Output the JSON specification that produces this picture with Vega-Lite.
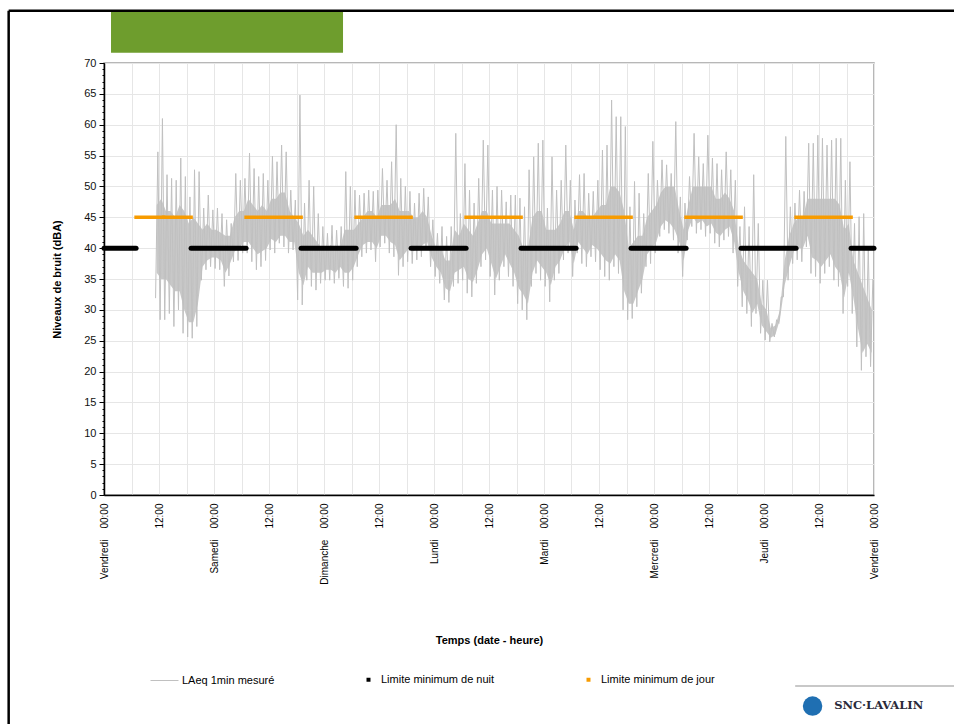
{
"$schema": "https://vega.github.io/schema/vega-lite/v6.json",
"width": 770, "height": 432,
"autosize": {"type": "none"},
"padding": {"left": 104, "top": 63, "right": 80, "bottom": 229},
"background": "white",
"config": {"view": {"stroke": "#a0a0a0", "strokeWidth": 1.5}, "font": "Liberation Sans", "axis": {"labelFont": "Liberation Sans", "titleFont": "Liberation Sans", "labelColor": "#111", "titleColor": "#000"}, "legend": {"labelFont": "Liberation Sans", "labelFontSize": 11, "labelColor": "#000"}},
"datasets": {
"laeq": [
{"t":11.25,"v":31.9},{"t":11.75,"v":55.6},{"t":12.25,"v":28.4},{"t":12.75,"v":61.0},{"t":13.25,"v":28.4},{"t":13.75,"v":51.9},{"t":14.25,"v":29.4},{"t":14.75,"v":51.3},{"t":15.25,"v":27.3},{"t":15.75,"v":51.0},{"t":16.25,"v":30.0},{"t":16.75,"v":54.6},{"t":17.25,"v":26.2},{"t":17.75,"v":51.6},{"t":18.25,"v":25.6},{"t":18.75,"v":48.3},{"t":19.25,"v":25.4},{"t":19.75,"v":52.7},{"t":20.25,"v":27.3},{"t":20.75,"v":52.4},
{"t":21.25,"v":34.8},{"t":21.75,"v":46.5},{"t":22.25,"v":36.5},{"t":22.75,"v":48.6},{"t":23.25,"v":37.0},{"t":23.75,"v":46.2},{"t":24.25,"v":36.7},{"t":24.75,"v":46.5},{"t":25.25,"v":36.5},{"t":25.75,"v":45.6},{"t":26.25,"v":33.8},{"t":26.75,"v":44.6},{"t":27.25,"v":35.5},{"t":27.75,"v":44.0},{"t":28.25,"v":37.8},{"t":28.75,"v":52.1},{"t":29.25,"v":38.0},{"t":29.75,"v":51.0},{"t":30.25,"v":39.2},{"t":30.75,"v":51.3},
{"t":31.25,"v":39.2},{"t":31.75,"v":55.4},{"t":32.25,"v":37.8},{"t":32.75,"v":52.9},{"t":33.25,"v":36.5},{"t":33.75,"v":51.6},{"t":34.25,"v":37.0},{"t":34.75,"v":52.1},{"t":35.25,"v":38.0},{"t":35.75,"v":51.0},{"t":36.25,"v":39.7},{"t":36.75,"v":54.9},{"t":37.25,"v":39.2},{"t":37.75,"v":54.0},{"t":38.25,"v":40.8},{"t":38.75,"v":56.7},{"t":39.25,"v":40.2},{"t":39.75,"v":55.6},{"t":40.25,"v":39.2},{"t":40.75,"v":49.4},
{"t":41.25,"v":39.7},{"t":41.75,"v":47.8},{"t":42.25,"v":31.6},{"t":42.75,"v":64.8},{"t":43.25,"v":30.8},{"t":43.75,"v":47.3},{"t":44.25,"v":34.8},{"t":44.75,"v":51.0},{"t":45.25,"v":33.8},{"t":45.75,"v":50.0},{"t":46.25,"v":33.2},{"t":46.75,"v":45.6},{"t":47.25,"v":34.3},{"t":47.75,"v":43.5},{"t":48.25,"v":34.8},{"t":48.75,"v":42.4},{"t":49.25,"v":34.8},{"t":49.75,"v":43.7},{"t":50.25,"v":34.3},{"t":50.75,"v":42.9},
{"t":51.25,"v":35.1},{"t":51.75,"v":43.5},{"t":52.25,"v":33.8},{"t":52.75,"v":52.4},{"t":53.25,"v":33.5},{"t":53.75,"v":50.0},{"t":54.25,"v":34.8},{"t":54.75,"v":49.4},{"t":55.25,"v":37.0},{"t":55.75,"v":48.6},{"t":56.25,"v":38.6},{"t":56.75,"v":48.9},{"t":57.25,"v":39.2},{"t":57.75,"v":49.4},{"t":58.25,"v":39.7},{"t":58.75,"v":49.2},{"t":59.25,"v":37.8},{"t":59.75,"v":49.4},{"t":60.25,"v":40.2},{"t":60.75,"v":52.9},
{"t":61.25,"v":40.8},{"t":61.75,"v":51.0},{"t":62.25,"v":39.2},{"t":62.75,"v":54.0},{"t":63.25,"v":38.6},{"t":63.75,"v":60.0},{"t":64.25,"v":35.6},{"t":64.75,"v":51.3},{"t":65.25,"v":37.0},{"t":65.75,"v":50.0},{"t":66.25,"v":37.8},{"t":66.75,"v":49.2},{"t":67.25,"v":37.5},{"t":67.75,"v":47.3},{"t":68.25,"v":38.1},{"t":68.75,"v":48.9},{"t":69.25,"v":38.6},{"t":69.75,"v":49.7},{"t":70.25,"v":39.7},{"t":70.75,"v":48.3},
{"t":71.25,"v":37.0},{"t":71.75,"v":44.6},{"t":72.25,"v":35.4},{"t":72.75,"v":42.4},{"t":73.25,"v":34.3},{"t":73.75,"v":43.5},{"t":74.25,"v":31.6},{"t":74.75,"v":41.9},{"t":75.25,"v":31.2},{"t":75.75,"v":43.5},{"t":76.25,"v":33.8},{"t":76.75,"v":58.6},{"t":77.25,"v":34.3},{"t":77.75,"v":45.6},{"t":78.25,"v":34.8},{"t":78.75,"v":53.7},{"t":79.25,"v":32.7},{"t":79.75,"v":49.4},{"t":80.25,"v":32.1},{"t":80.75,"v":47.3},
{"t":81.25,"v":34.3},{"t":81.75,"v":51.3},{"t":82.25,"v":37.0},{"t":82.75,"v":57.5},{"t":83.25,"v":38.1},{"t":83.75,"v":56.7},{"t":84.25,"v":35.4},{"t":84.75,"v":49.4},{"t":85.25,"v":32.4},{"t":85.75,"v":50.0},{"t":86.25,"v":34.8},{"t":86.75,"v":49.4},{"t":87.25,"v":37.0},{"t":87.75,"v":47.5},{"t":88.25,"v":35.4},{"t":88.75,"v":48.6},{"t":89.25,"v":33.8},{"t":89.75,"v":48.6},{"t":90.25,"v":31.0},{"t":90.75,"v":48.1},
{"t":91.25,"v":30.0},{"t":91.75,"v":46.7},{"t":92.25,"v":28.4},{"t":92.75,"v":52.7},{"t":93.25,"v":33.8},{"t":93.75,"v":54.8},{"t":94.25,"v":35.9},{"t":94.75,"v":57.0},{"t":95.25,"v":34.8},{"t":95.75,"v":57.5},{"t":96.25,"v":33.8},{"t":96.75,"v":46.5},{"t":97.25,"v":31.3},{"t":97.75,"v":54.8},{"t":98.25,"v":34.8},{"t":98.75,"v":49.4},{"t":99.25,"v":35.9},{"t":99.75,"v":51.0},{"t":100.25,"v":38.1},{"t":100.75,"v":56.7},
{"t":101.25,"v":39.2},{"t":101.75,"v":51.0},{"t":102.25,"v":35.4},{"t":102.75,"v":47.8},{"t":103.25,"v":39.2},{"t":103.75,"v":51.9},{"t":104.25,"v":37.5},{"t":104.75,"v":52.1},{"t":105.25,"v":37.0},{"t":105.75,"v":48.9},{"t":106.25,"v":38.6},{"t":106.75,"v":49.2},{"t":107.25,"v":37.8},{"t":107.75,"v":51.0},{"t":108.25,"v":36.5},{"t":108.75,"v":55.9},{"t":109.25,"v":35.4},{"t":109.75,"v":56.7},{"t":110.25,"v":34.8},{"t":110.75,"v":64.0},
{"t":111.25,"v":37.0},{"t":111.75,"v":61.3},{"t":112.25,"v":35.9},{"t":112.75,"v":61.3},{"t":113.25,"v":30.0},{"t":113.75,"v":59.7},{"t":114.25,"v":28.4},{"t":114.75,"v":46.7},{"t":115.25,"v":28.6},{"t":115.75,"v":50.8},{"t":116.25,"v":30.5},{"t":116.75,"v":48.9},{"t":117.25,"v":32.7},{"t":117.75,"v":45.6},{"t":118.25,"v":37.0},{"t":118.75,"v":52.1},{"t":119.25,"v":37.5},{"t":119.75,"v":57.3},{"t":120.25,"v":39.2},{"t":120.75,"v":51.0},
{"t":121.25,"v":41.9},{"t":121.75,"v":54.3},{"t":122.25,"v":43.0},{"t":122.75,"v":53.5},{"t":123.25,"v":42.4},{"t":123.75,"v":52.1},{"t":124.25,"v":41.3},{"t":124.75,"v":60.5},{"t":125.25,"v":39.2},{"t":125.75,"v":48.3},{"t":126.25,"v":35.4},{"t":126.75,"v":47.3},{"t":127.25,"v":41.3},{"t":127.75,"v":51.6},{"t":128.25,"v":43.5},{"t":128.75,"v":58.6},{"t":129.25,"v":42.4},{"t":129.75,"v":54.8},{"t":130.25,"v":43.0},{"t":130.75,"v":53.7},
{"t":131.25,"v":41.9},{"t":131.75,"v":58.3},{"t":132.25,"v":42.4},{"t":132.75,"v":54.6},{"t":133.25,"v":40.8},{"t":133.75,"v":53.7},{"t":134.25,"v":40.2},{"t":134.75,"v":52.7},{"t":135.25,"v":41.3},{"t":135.75,"v":55.6},{"t":136.25,"v":41.9},{"t":136.75,"v":52.7},{"t":137.25,"v":39.2},{"t":137.75,"v":51.0},{"t":138.25,"v":33.8},{"t":138.75,"v":43.5},{"t":139.25,"v":30.5},{"t":139.75,"v":46.7},{"t":140.25,"v":29.4},{"t":140.75,"v":43.5},
{"t":141.25,"v":27.3},{"t":141.75,"v":51.9},{"t":142.25,"v":29.4},{"t":142.75,"v":44.0},{"t":143.25,"v":26.2},{"t":143.75,"v":34.8},{"t":144.25,"v":25.1},{"t":144.75,"v":34.8},{"t":145.25,"v":24.8},{"t":145.75,"v":27.8},{"t":146.25,"v":25.6},{"t":146.75,"v":28.4},{"t":147.25,"v":27.8},{"t":147.75,"v":32.1},{"t":148.25,"v":32.1},{"t":148.75,"v":58.1},{"t":149.25,"v":34.8},{"t":149.75,"v":46.7},{"t":150.25,"v":37.5},{"t":150.75,"v":47.3},
{"t":151.25,"v":38.1},{"t":151.75,"v":49.4},{"t":152.25,"v":37.8},{"t":152.75,"v":49.2},{"t":153.25,"v":40.2},{"t":153.75,"v":57.0},{"t":154.25,"v":35.9},{"t":154.75,"v":57.0},{"t":155.25,"v":35.4},{"t":155.75,"v":58.3},{"t":156.25,"v":34.3},{"t":156.75,"v":57.8},{"t":157.25,"v":35.9},{"t":157.75,"v":56.7},{"t":158.25,"v":37.0},{"t":158.75,"v":57.5},{"t":159.25,"v":34.8},{"t":159.75,"v":57.8},{"t":160.25,"v":33.8},{"t":160.75,"v":57.8},
{"t":161.25,"v":29.4},{"t":161.75,"v":51.0},{"t":162.25,"v":33.8},{"t":162.75,"v":54.0},{"t":163.25,"v":29.4},{"t":163.75,"v":44.0},{"t":164.25,"v":24.0},{"t":164.75,"v":45.1},{"t":165.25,"v":20.2},{"t":165.75,"v":45.6},{"t":166.25,"v":22.4},{"t":166.75,"v":40.2},{"t":167.25,"v":20.8},{"t":167.75,"v":35.0}
],
"bande": [
{"t":11.5,"lo":36,"hi":47},{"t":12.5,"lo":35,"hi":48},{"t":13.5,"lo":35,"hi":46},{"t":14.5,"lo":34,"hi":46},{"t":15.5,"lo":33,"hi":45},{"t":16.5,"lo":33,"hi":47},{"t":17.5,"lo":30,"hi":46},{"t":18.5,"lo":28,"hi":44},{"t":19.5,"lo":28,"hi":45},{"t":20.5,"lo":31,"hi":44},
{"t":21.5,"lo":37,"hi":43},{"t":22.5,"lo":38,"hi":44},{"t":23.5,"lo":38.5,"hi":43},{"t":24.5,"lo":38.5,"hi":43},{"t":25.5,"lo":38,"hi":42.5},{"t":26.5,"lo":36,"hi":42},{"t":27.5,"lo":37.5,"hi":42},{"t":28.5,"lo":39.5,"hi":45},{"t":29.5,"lo":40,"hi":46},{"t":30.5,"lo":41,"hi":46},
{"t":31.5,"lo":41,"hi":48},{"t":32.5,"lo":40,"hi":47},{"t":33.5,"lo":39,"hi":46},{"t":34.5,"lo":39.5,"hi":47},{"t":35.5,"lo":40,"hi":46},{"t":36.5,"lo":41.5,"hi":48},{"t":37.5,"lo":41,"hi":48},{"t":38.5,"lo":42,"hi":49},{"t":39.5,"lo":42,"hi":49},{"t":40.5,"lo":41,"hi":46},
{"t":41.5,"lo":41,"hi":45},{"t":42.5,"lo":36,"hi":44},{"t":43.5,"lo":34,"hi":42},{"t":44.5,"lo":37,"hi":43},{"t":45.5,"lo":36,"hi":42},{"t":46.5,"lo":36,"hi":41},{"t":47.5,"lo":36,"hi":40},{"t":48.5,"lo":36.5,"hi":40},{"t":49.5,"lo":36.5,"hi":40.5},{"t":50.5,"lo":36,"hi":40},
{"t":51.5,"lo":37,"hi":40},{"t":52.5,"lo":36,"hi":43},{"t":53.5,"lo":36,"hi":43},{"t":54.5,"lo":37,"hi":43},{"t":55.5,"lo":39,"hi":44},{"t":56.5,"lo":40.5,"hi":45},{"t":57.5,"lo":41,"hi":46},{"t":58.5,"lo":41,"hi":46},{"t":59.5,"lo":40,"hi":45},{"t":60.5,"lo":42,"hi":47},
{"t":61.5,"lo":42,"hi":47},{"t":62.5,"lo":41,"hi":47},{"t":63.5,"lo":40.5,"hi":48},{"t":64.5,"lo":38,"hi":46},{"t":65.5,"lo":39,"hi":46},{"t":66.5,"lo":40,"hi":46},{"t":67.5,"lo":39.5,"hi":45},{"t":68.5,"lo":40,"hi":45},{"t":69.5,"lo":40.5,"hi":46},{"t":70.5,"lo":41,"hi":45},
{"t":71.5,"lo":38.5,"hi":42},{"t":72.5,"lo":37,"hi":40},{"t":73.5,"lo":36,"hi":40},{"t":74.5,"lo":33.5,"hi":38},{"t":75.5,"lo":33,"hi":38},{"t":76.5,"lo":36,"hi":43},{"t":77.5,"lo":36.5,"hi":42},{"t":78.5,"lo":37,"hi":44},{"t":79.5,"lo":35,"hi":43},{"t":80.5,"lo":34.5,"hi":42},
{"t":81.5,"lo":36.5,"hi":44},{"t":82.5,"lo":39,"hi":46},{"t":83.5,"lo":40,"hi":46},{"t":84.5,"lo":37.5,"hi":44},{"t":85.5,"lo":35,"hi":44},{"t":86.5,"lo":37,"hi":44},{"t":87.5,"lo":39,"hi":44},{"t":88.5,"lo":37.5,"hi":44},{"t":89.5,"lo":36,"hi":43},{"t":90.5,"lo":33.5,"hi":42},
{"t":91.5,"lo":32.5,"hi":40},{"t":92.5,"lo":31,"hi":40},{"t":93.5,"lo":36,"hi":45},{"t":94.5,"lo":38,"hi":46},{"t":95.5,"lo":37,"hi":46},{"t":96.5,"lo":36,"hi":43},{"t":97.5,"lo":34,"hi":43},{"t":98.5,"lo":37,"hi":43},{"t":99.5,"lo":38,"hi":44},{"t":100.5,"lo":40,"hi":46},
{"t":101.5,"lo":41,"hi":46},{"t":102.5,"lo":37.5,"hi":43},{"t":103.5,"lo":41,"hi":46},{"t":104.5,"lo":40,"hi":46},{"t":105.5,"lo":39,"hi":45},{"t":106.5,"lo":40.5,"hi":45},{"t":107.5,"lo":40,"hi":46},{"t":108.5,"lo":39,"hi":47},{"t":109.5,"lo":38,"hi":47},{"t":110.5,"lo":37.5,"hi":50},
{"t":111.5,"lo":39,"hi":50},{"t":112.5,"lo":38,"hi":49},{"t":113.5,"lo":33,"hi":46},{"t":114.5,"lo":31,"hi":40},{"t":115.5,"lo":31,"hi":41},{"t":116.5,"lo":33,"hi":42},{"t":117.5,"lo":35,"hi":42},{"t":118.5,"lo":39,"hi":45},{"t":119.5,"lo":40,"hi":46},{"t":120.5,"lo":41,"hi":47},
{"t":121.5,"lo":43.5,"hi":49},{"t":122.5,"lo":44.5,"hi":50},{"t":123.5,"lo":44,"hi":50},{"t":124.5,"lo":43,"hi":50},{"t":125.5,"lo":41,"hi":46},{"t":126.5,"lo":38,"hi":43},{"t":127.5,"lo":43,"hi":47},{"t":128.5,"lo":45,"hi":50},{"t":129.5,"lo":44,"hi":50},{"t":130.5,"lo":44.5,"hi":50},
{"t":131.5,"lo":43.5,"hi":50},{"t":132.5,"lo":44,"hi":50},{"t":133.5,"lo":42.5,"hi":48},{"t":134.5,"lo":42,"hi":48},{"t":135.5,"lo":43,"hi":49},{"t":136.5,"lo":43.5,"hi":48},{"t":137.5,"lo":41,"hi":46},{"t":138.5,"lo":36,"hi":40},{"t":139.5,"lo":33,"hi":38},{"t":140.5,"lo":31.5,"hi":37},
{"t":141.5,"lo":29.5,"hi":36},{"t":142.5,"lo":31,"hi":35},{"t":143.5,"lo":27.5,"hi":31},{"t":144.5,"lo":26.5,"hi":30},{"t":145.5,"lo":25.5,"hi":27},{"t":146.5,"lo":26,"hi":27.5},{"t":147.5,"lo":28.5,"hi":30},{"t":148.5,"lo":34,"hi":38},{"t":149.5,"lo":37,"hi":42},{"t":150.5,"lo":39.5,"hi":44},
{"t":151.5,"lo":40,"hi":45},{"t":152.5,"lo":40,"hi":45},{"t":153.5,"lo":42,"hi":48},{"t":154.5,"lo":38.5,"hi":48},{"t":155.5,"lo":38,"hi":48},{"t":156.5,"lo":37,"hi":48},{"t":157.5,"lo":38,"hi":48},{"t":158.5,"lo":39,"hi":48},{"t":159.5,"lo":37,"hi":48},{"t":160.5,"lo":36,"hi":47},
{"t":161.5,"lo":32,"hi":43},{"t":162.5,"lo":36,"hi":44},{"t":163.5,"lo":32,"hi":38},{"t":164.5,"lo":27,"hi":36},{"t":165.5,"lo":23,"hi":34},{"t":166.5,"lo":24.5,"hi":32},{"t":167.5,"lo":23,"hi":30}
],
"nuit": [
{"t0":0,"t1":7,"v":40},{"t0":19,"t1":31,"v":40},{"t0":43,"t1":55,"v":40},{"t0":67,"t1":79,"v":40},{"t0":91,"t1":103,"v":40},{"t0":115,"t1":127,"v":40},{"t0":139,"t1":151,"v":40},{"t0":163,"t1":168,"v":40}
],
"jour": [
{"t0":7,"t1":19,"v":45},{"t0":31,"t1":43,"v":45},{"t0":55,"t1":67,"v":45},{"t0":79,"t1":91,"v":45},{"t0":103,"t1":115,"v":45},{"t0":127,"t1":139,"v":45},{"t0":151,"t1":163,"v":45}
],
"limpts": [{"serie":"Limite minimum de nuit","t":3,"v":40},{"serie":"Limite minimum de jour","t":13,"v":45}],
"bandeau": [{"x0":1.53,"x1":52.15,"y0":71.67,"y1":78.27}],
"cadre": [{"a":-20.8,"b":185.5,"c":78.48,"d":78.48},{"a":-20.8,"b":-20.8,"c":78.48,"d":-37.2}],
"logoligne": [{"a":150.8,"b":185.5,"c":-30.95,"d":-30.95}],
"logo": [{"x":159.3,"y":-34.2,"txt":"SNC·LAVALIN"}],
"logoicone": [{"x":154.6,"y":-34.2}]
},
"layer": [
{
"data": {"name": "bande"},
"mark": {"type": "area", "color": "#c8c8c8", "opacity": 1},
"encoding": {
"x": {"field": "t", "type": "quantitative", "scale": {"domain": [0,168], "nice": false, "zero": false}, "axis": null},
"y": {"field": "hi", "type": "quantitative", "scale": {"domain": [0,70], "nice": false, "zero": true}, "axis": null},
"y2": {"field": "lo"}
}
},
{
"data": {"name": "laeq"},
"transform": [{"calculate": "'LAeq 1min mesuré'", "as": "serie"}],
"mark": {"type": "line", "strokeWidth": 1, "clip": false},
"encoding": {
"x": {"field": "t", "type": "quantitative", "scale": {"domain": [0,168], "nice": false, "zero": false},
 "axis": {"orient": "bottom", "values": [0,6,12,18,24,30,36,42,48,54,60,66,72,78,84,90,96,102,108,114,120,126,132,138,144,150,156,162,168], "labels": false, "ticks": false, "domain": true, "domainColor": "#000", "domainWidth": 1.5, "grid": true, "gridColor": "#e6e6e6", "gridWidth": 1, "title": null}},
"y": {"field": "v", "type": "quantitative", "scale": {"domain": [0,70], "nice": false, "zero": true},
 "axis": {"orient": "left", "values": [0,5,10,15,20,25,30,35,40,45,50,55,60,65,70], "grid": true, "gridColor": "#e6e6e6", "tickSize": 5, "tickColor": "#000", "domainColor": "#000", "domainWidth": 1.5, "labelFontSize": 11, "labelPadding": 3, "title": "Niveaux de bruit (dBA)", "titleFontWeight": "bold", "titleFontSize": 11, "titlePadding": 21}},
"color": {"field": "serie", "type": "nominal",
 "scale": {"domain": ["LAeq 1min mesuré"], "range": ["#c0c0c0"]},
 "legend": {"orient": "none", "direction": "horizontal", "legendX": 46, "legendY": 603, "title": null,
  "symbolSize": 784, "symbolType": "stroke", "symbolStrokeWidth": 1, "labelOffset": 3}}
}
},
{
"data": {"name": "nuit"},
"mark": {"type": "rule", "color": "#000000", "strokeWidth": 5, "strokeCap": "round"},
"encoding": {
"x": {"field": "t0", "type": "quantitative", "scale": {"domain": [0,168], "nice": false, "zero": false},
 "axis": {"orient": "bottom", "values": [0,12,24,36,48,60,72,84,96,108,120,132,144,156,168], "grid": false, "domain": false, "ticks": false, "labelAngle": 270, "labelAlign": "right", "labelBaseline": "middle", "labelPadding": 8, "labelFontSize": 10, "labelColor": "#000", "labelOverlap": false, "labelBound": false, "labelFlush": false,
  "labelExpr": "datum.value % 24 == 0 ? ['Vendredi','Samedi','Dimanche','Lundi','Mardi','Mercredi','Jeudi','Vendredi'][datum.value / 24] + '\u00a0\u00a0\u00a0\u00a000:00' : '12:00'",
  "title": "Temps (date - heure)", "titleFontWeight": "bold", "titleFontSize": 11, "titleY": 145, "titleBaseline": "middle"}},
"x2": {"field": "t1"},
"y": {"field": "v", "type": "quantitative", "scale": {"domain": [0,70], "nice": false, "zero": true},
 "axis": {"orient": "left", "values": [0,1,2,3,4,5,6,7,8,9,10,11,12,13,14,15,16,17,18,19,20,21,22,23,24,25,26,27,28,29,30,31,32,33,34,35,36,37,38,39,40,41,42,43,44,45,46,47,48,49,50,51,52,53,54,55,56,57,58,59,60,61,62,63,64,65,66,67,68,69,70], "labels": false, "grid": false, "domain": false, "tickSize": 2, "tickColor": "#000", "title": null}}
}
},
{
"data": {"name": "jour"},
"mark": {"type": "rule", "color": "#f79b00", "strokeWidth": 3.5, "strokeCap": "square"},
"encoding": {
"x": {"field": "t0", "type": "quantitative", "scale": {"domain": [0,168], "nice": false, "zero": false}, "axis": null},
"x2": {"field": "t1"},
"y": {"field": "v", "type": "quantitative", "scale": {"domain": [0,70], "nice": false, "zero": true}, "axis": null}
}
},
{
"data": {"name": "limpts"},
"mark": {"type": "point", "shape": "square", "filled": true, "size": 12, "opacity": 1},
"encoding": {
"x": {"field": "t", "type": "quantitative", "scale": {"domain": [0,168], "nice": false, "zero": false}, "axis": null},
"y": {"field": "v", "type": "quantitative", "scale": {"domain": [0,70], "nice": false, "zero": true}, "axis": null},
"fill": {"field": "serie", "type": "nominal",
 "scale": {"domain": ["Limite minimum de nuit", "Limite minimum de jour"], "range": ["#000000", "#f79b00"]},
 "legend": {"orient": "none", "direction": "horizontal", "columns": 2, "legendX": 259, "legendY": 611, "title": null,
  "symbolSize": 16, "symbolType": "square", "symbolStrokeWidth": 0, "labelOffset": 7, "columnPadding": 88}}
}
},
{
"data": {"name": "bandeau"},
"mark": {"type": "rect", "color": "#6e9d2d", "clip": false},
"encoding": {
"x": {"field": "x0", "type": "quantitative", "scale": {"domain": [0,168], "nice": false, "zero": false}, "axis": null},
"x2": {"field": "x1"},
"y": {"field": "y0", "type": "quantitative", "scale": {"domain": [0,70], "nice": false, "zero": true}, "axis": null},
"y2": {"field": "y1"}
}
},
{
"data": {"name": "cadre"},
"mark": {"type": "rule", "color": "#000000", "strokeWidth": 2.5},
"encoding": {
"x": {"field": "a", "type": "quantitative", "scale": {"domain": [0,168], "nice": false, "zero": false}, "axis": null},
"x2": {"field": "b"},
"y": {"field": "c", "type": "quantitative", "scale": {"domain": [0,70], "nice": false, "zero": true}, "axis": null},
"y2": {"field": "d"}
}
},
{
"data": {"name": "logoligne"},
"mark": {"type": "rule", "color": "#c8c8c8", "strokeWidth": 2},
"encoding": {
"x": {"field": "a", "type": "quantitative", "scale": {"domain": [0,168], "nice": false, "zero": false}, "axis": null},
"x2": {"field": "b"},
"y": {"field": "c", "type": "quantitative", "scale": {"domain": [0,70], "nice": false, "zero": true}, "axis": null},
"y2": {"field": "d"}
}
},
{
"data": {"name": "logoicone"},
"mark": {"type": "point", "shape": "circle", "filled": true, "color": "#1f6fb2", "size": 380, "opacity": 1},
"encoding": {
"x": {"field": "x", "type": "quantitative", "scale": {"domain": [0,168], "nice": false, "zero": false}, "axis": null},
"y": {"field": "y", "type": "quantitative", "scale": {"domain": [0,70], "nice": false, "zero": true}, "axis": null}
}
},
{
"data": {"name": "logo"},
"mark": {"type": "text", "align": "left", "baseline": "middle", "font": "DejaVu Serif", "fontWeight": "bold", "fontSize": 11.5, "color": "#2a2a3a"},
"encoding": {
"x": {"field": "x", "type": "quantitative", "scale": {"domain": [0,168], "nice": false, "zero": false}, "axis": null},
"y": {"field": "y", "type": "quantitative", "scale": {"domain": [0,70], "nice": false, "zero": true}, "axis": null},
"text": {"field": "txt"}
}
}
],
"resolve": {"axis": {"x": "independent", "y": "independent"}}
}
